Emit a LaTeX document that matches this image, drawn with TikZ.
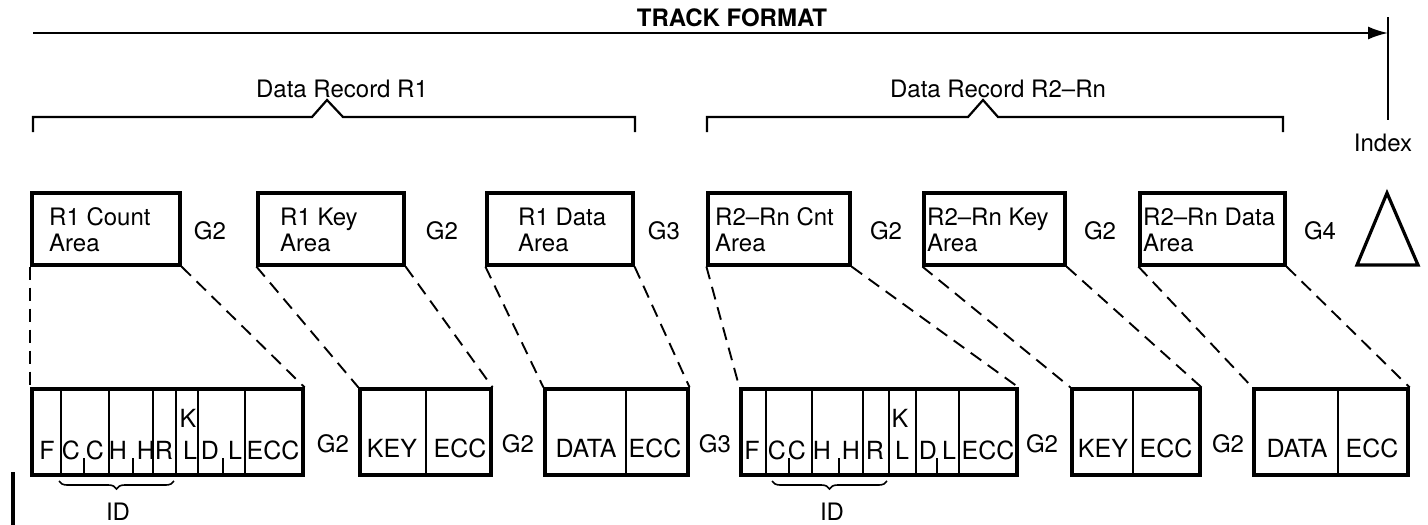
\documentclass[tikz,border=0pt]{standalone}
\usepackage{fontspec}
\setmainfont{TeX Gyre Heros}
\usetikzlibrary{arrows.meta, decorations.pathreplacing}

\tikzset{
    areabox/.style={draw, line width=3.2pt, minimum height=72pt, inner sep=0pt},
    fldbox/.style={draw, line width=3.2pt, minimum height=86pt, inner sep=0pt},
    lbl/.style={inner sep=0pt, font=\fontsize{24}{26}\selectfont},
    fldtxt/.style={inner sep=0pt, font=\fontsize{25}{26}\selectfont},
    link/.style={line width=1.9pt, dash pattern=on 13pt off 8pt},
    idbrace/.style={decorate, decoration={brace, mirror, amplitude=8pt}, line width=1.6pt},
}

\begin{document}
\begin{tikzpicture}[x=1pt, y=-1pt, >={Latex[length=20pt, width=13pt]}]
        \useasboundingbox (0,0) rectangle (1428,525);

        % ====================
        % 1. Track arrow and index
        % ====================
        \coordinate (trkA) at (33,33);
        \coordinate (trkB) at (1388,33);
        \draw[->, line width=2pt] (trkA) -- (trkB);
        \node[lbl, font=\bfseries\fontsize{24}{26}\selectfont] (trk) at (732,18) {TRACK FORMAT};

        \coordinate (ixA) at (1388,17);
        \coordinate (ixB) at (1388,120);
        \draw[line width=2.4pt] (ixA) -- (ixB);
        \node[lbl] (idx) at (1383,143) {Index};

        % ====================
        % 2. Record brackets
        % ====================
        \draw[line width=2.2pt] (33,132) -- (33,117) -- (312,117) -- (327,100) -- (343,117) -- (635,117) -- (635,132);
        \node[lbl] (rec1) at (342,89) {Data Record R1};

        \draw[line width=2.2pt] (707,132) -- (707,117) -- (968,117) -- (983,100) -- (998,117) -- (1283,117) -- (1283,132);
        \node[lbl] (rec2) at (998,89) {Data Record R2–Rn};

        % ====================
        % 3. Area boxes (top row)
        % ====================
        \foreach \n/\xa/\xb/\tx/\txt/\g/\gx in {
            cnt1/32/180/49/{R1 Count\\Area}/G2/210,
            key1/258/404/280/{R1 Key\\Area}/G2/442,
            dat1/487/633/518/{R1 Data\\Area}/G3/664,
            cnt2/708/850/715/{R2–Rn Cnt\\Area}/G2/886,
            key2/924/1065/927/{R2–Rn Key\\Area}/G2/1100,
            dat2/1140/1285/1143/{R2–Rn Data\\Area}/G4/1320} {
            \node[areabox, minimum width={\xb-\xa}] (\n) at ({(\xa+\xb)/2},229) {};
            \node[lbl, align=left, anchor=west] (\n t) at (\tx,230) {\txt};
            \node[lbl] (\n g) at (\gx,231) {\g};
        }

        % index mark
        \draw[line width=3.2pt, line join=miter] (1387,193) -- (1418,265) -- (1357,265) -- cycle;

        % ====================
        % 4. Field boxes (bottom row)
        % ====================
        \foreach \n/\xa/\xb in {fcnt1/32/303, fkey1/360/491, fdat1/545/688,
                                fcnt2/741/1017, fkey2/1072/1200, fdat2/1254/1408} {
            \node[fldbox, minimum width={\xb-\xa}] (\n) at ({(\xa+\xb)/2},432) {};
        }

        % dashed expansion lines
        \foreach \a/\b in {cnt1/fcnt1, key1/fkey1, dat1/fdat1, cnt2/fcnt2, key2/fkey2, dat2/fdat2} {
            \draw[link] (\a.south west) -- (\b.north west);
            \draw[link] (\a.south east) -- (\b.north east);
        }

        % count fields, record 1
        \foreach \d in {61,109,153,176,198,245}
            \draw[line width=1.8pt] (\d,389) -- (\d,475);
        \foreach \d in {84,133,223}
            \draw[line width=1.8pt] (\d,475) -- (\d,458);
        \foreach \x/\t [count=\i] in {47/F,71/C,95/C,118/H,146/H,164/R,190/L,210/D,235/L,273/ECC}
            \node[fldtxt] (fa\i) at (\x,450) {\t};
        \node[fldtxt] (fak) at (188,418) {K};
        \draw[idbrace] (59,481) -- (174,481);
        \node[lbl] (ida) at (118,512) {ID};

        % count fields, record 2-n
        \foreach \d in {766,812,863,889,916,959}
            \draw[line width=1.8pt] (\d,389) -- (\d,475);
        \foreach \d in {789,839,937}
            \draw[line width=1.8pt] (\d,475) -- (\d,458);
        \foreach \x/\t [count=\i] in {752/F,777/C,797/C,822/H,851/H,875/R,902/L,928/D,949/L,988/ECC}
            \node[fldtxt] (fb\i) at (\x,450) {\t};
        \node[fldtxt] (fbk) at (900,418) {K};
        \draw[idbrace] (772,481) -- (887,481);
        \node[lbl] (idb) at (832,512) {ID};

        % key and data fields
        \foreach \d in {426,626,1133,1338}
            \draw[line width=1.8pt] (\d,389) -- (\d,475);
        \foreach \x/\t [count=\i] in {392/KEY,460/ECC,586/DATA,655/ECC,1103/KEY,1166/ECC,1297/DATA,1372/ECC}
            \node[fldtxt] (fk\i) at (\x,448) {\t};

        % gaps between fields
        \foreach \x/\g [count=\i] in {333/G2,518/G2,715/G3,1042/G2,1228/G2}
            \node[lbl] (gp\i) at (\x,444) {\g};

        % change bar
        \draw[line width=4pt] (13,472) -- (13,525);

    \end{tikzpicture}
\end{document}
